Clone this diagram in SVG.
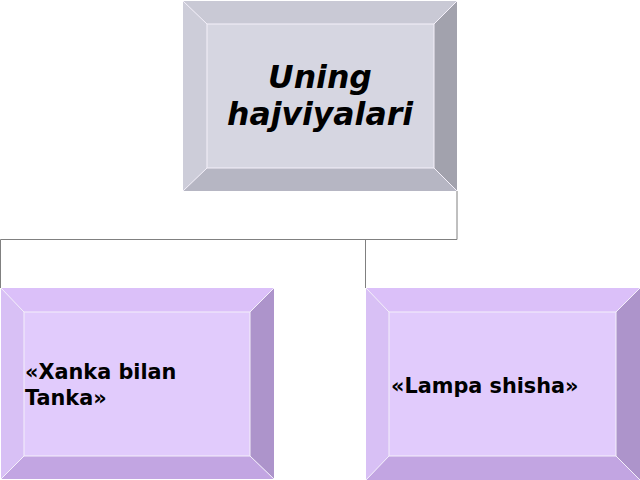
<svg xmlns="http://www.w3.org/2000/svg" width="640" height="480" viewBox="0 0 640 480">
<style>
.edge{stroke:#f4f0fa;stroke-width:1;fill:none}
.conn{stroke:#808080;stroke-width:1;fill:none}
.t1{font-family:"DejaVu Sans",sans-serif;font-weight:bold;font-style:italic;font-size:31.5px;fill:#000}
.t2{font-family:"DejaVu Sans",sans-serif;font-weight:bold;font-size:20.8px;fill:#000}
</style>
<rect width="640" height="480" fill="#ffffff"/>
<g id="connectors">
<path class="conn" d="M457,191 V239.5 H0.5 V288"/>
<path class="conn" d="M365.5,239.5 V288"/>
</g>
<g id="top">
<rect x="183" y="1" width="274" height="190" fill="#d6d6e1"/>
<polygon points="183,1 457,1 434,24 207,24" fill="#c9c9d5"/>
<polygon points="457,1 457,191 434,168 434,24" fill="#a2a2ad"/>
<polygon points="183,191 457,191 434,168 207,168" fill="#b6b6c3"/>
<polygon points="183,1 207,24 207,168 183,191" fill="#cdcdd9"/>
<path class="edge" d="M183,1 L207,24 M457,1 L434,24 M183,191 L207,168 M457,191 L434,168 M207,24 H434 V168 H207 Z"/>
<text class="t1" x="320" y="88" text-anchor="middle">Uning</text>
<text class="t1" x="320" y="125" text-anchor="middle">hajviyalari</text>
</g>
<g id="left">
<rect x="1" y="288" width="273" height="191" fill="#e1cbfc"/>
<polygon points="1,288 274,288 250,312 24,312" fill="#dbc0f9"/>
<polygon points="274,288 274,479 250,456 250,312" fill="#ad94cb"/>
<polygon points="1,479 274,479 250,456 24,456" fill="#c2a5e2"/>
<polygon points="1,288 24,312 24,456 1,479" fill="#d8c0f5"/>
<path class="edge" d="M1,288 L24,312 M274,288 L250,312 M1,479 L24,456 M274,479 L250,456 M24,312 H250 V456 H24 Z"/>
<text class="t2" x="25" y="379">«Xanka bilan</text>
<text class="t2" x="25" y="405">Tanka»</text>
</g>
<g id="right">
<rect x="366" y="288" width="274" height="192" fill="#e1cbfc"/>
<polygon points="366,288 640,288 616,312 389,312" fill="#dbc0f9"/>
<polygon points="640,288 640,480 616,456 616,312" fill="#ad94cb"/>
<polygon points="366,480 640,480 616,456 389,456" fill="#c2a5e2"/>
<polygon points="366,288 389,312 389,456 366,480" fill="#d8c0f5"/>
<path class="edge" d="M366,288 L389,312 M640,288 L616,312 M366,480 L389,456 M640,480 L616,456 M389,312 H616 V456 H389 Z"/>
<text class="t2" x="391" y="393">«Lampa shisha»</text>
</g>
</svg>
